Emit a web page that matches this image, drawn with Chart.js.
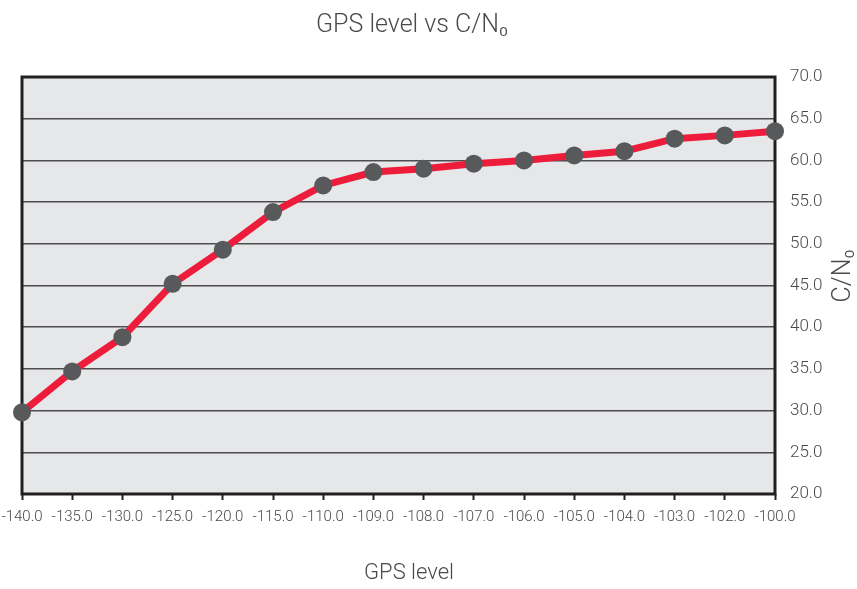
<!DOCTYPE html>
<html><head><meta charset="utf-8">
<script src="https://cdn.jsdelivr.net/npm/chart.js@4/dist/chart.umd.min.js"></script>
<style>html,body{margin:0;padding:0;background:#fff}canvas{display:block}</style>
</head><body>
<canvas id="c" width="857" height="589"></canvas>
<script>
const categories = ['-140.0','-135.0','-130.0','-125.0','-120.0','-115.0','-110.0','-109.0','-108.0','-107.0','-106.0','-105.0','-104.0','-103.0','-102.0','-100.0'];
const cn0Values = [29.8, 34.7, 38.8, 45.2, 49.3, 53.8, 57.0, 58.6, 59.0, 59.6, 60.0, 60.6, 61.1, 62.6, 63.0, 63.5];
const yMin = 20, yMax = 70, yStep = 5;
const chartTitle = 'GPS level vs C/N\u2080';
const xTitle = 'GPS level';
const yTitle = 'C/N\u2080';

const TEXT = '#4a4a4c';
const FONT = 'Roboto';

const framePlugin = {
  id: 'frame',
  beforeDraw(chart) {
    const {ctx, chartArea: a} = chart;
    ctx.save();
    ctx.fillStyle = '#e6e7e8';
    ctx.fillRect(a.left, a.top, a.right - a.left, a.bottom - a.top);
    ctx.restore();
  },
  beforeDatasetsDraw(chart) {
    const {ctx, chartArea: a} = chart;
    ctx.save();
    ctx.strokeStyle = '#231f20';
    ctx.lineWidth = 3;
    ctx.strokeRect(a.left, a.top, a.right - a.left, a.bottom - a.top);
    ctx.restore();
  },
  afterDraw(chart) {
    const {ctx} = chart;
    ctx.save();
    ctx.fillStyle = TEXT;
    ctx.textAlign = 'center';
    ctx.textBaseline = 'middle';
    ctx.font = '300 25px ' + FONT;
    ctx.fillText(chartTitle, 412, 26);
    ctx.font = '300 22px ' + FONT;
    ctx.fillText(xTitle, 409, 573);
    ctx.translate(844, 276);
    ctx.rotate(-Math.PI / 2);
    ctx.font = '300 25px ' + FONT;
    ctx.fillText(yTitle, 0, 0);
    ctx.restore();
  }
};

new Chart(document.getElementById('c'), {
  type: 'line',
  data: {
    labels: categories,
    datasets: [{
      data: cn0Values,
      borderColor: '#ed1c3a',
      borderWidth: 7,
      tension: 0,
      pointRadius: 9,
      pointHoverRadius: 9,
      pointBackgroundColor: '#58595b',
      pointBorderColor: '#58595b',
      pointBorderWidth: 0,
      clip: false
    }]
  },
  options: {
    responsive: false,
    animation: false,
    layout: {padding: {left: 22, top: 77, right: 0, bottom: 0}},
    plugins: {legend: {display: false}, title: {display: false}, tooltip: {enabled: false}},
    scales: {
      x: {
        type: 'category',
        offset: false,
        grid: {display: true, drawOnChartArea: false, drawTicks: true, tickLength: 6, tickColor: '#231f20', tickWidth: 2},
        border: {display: false},
        ticks: {color: TEXT, font: {family: FONT, size: 15, weight: '300'}, padding: 8, maxRotation: 0, autoSkip: false},
        afterFit(s) { s.height = 95; s.paddingLeft = 0; s.paddingRight = 0; }
      },
      y: {
        position: 'right',
        min: yMin, max: yMax,
        grid: {color: '#4d4d4f', lineWidth: 1.5, drawTicks: false},
        border: {display: false},
        ticks: {stepSize: yStep, color: TEXT, font: {family: FONT, size: 17, weight: '300'}, padding: 15,
          callback: v => Number(v).toFixed(1)},
        afterFit(s) { s.width = 82; s.paddingTop = 0; s.paddingBottom = 0; }
      }
    }
  },
  plugins: [framePlugin]
});
</script>
</body></html>
